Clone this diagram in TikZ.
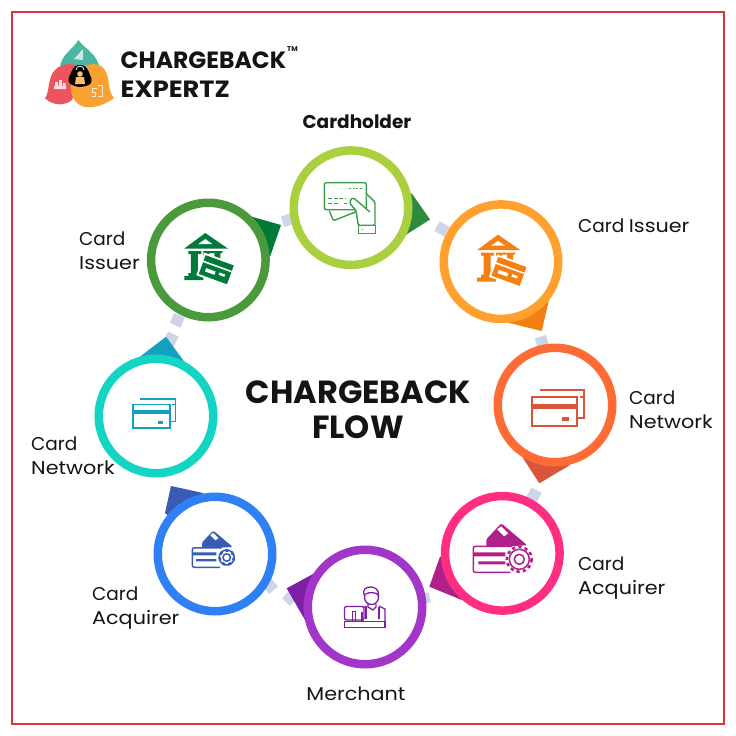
\documentclass[tikz,border=0pt]{standalone}
\usepackage{fontspec}
\usetikzlibrary{calc}
\setmainfont{Poppins}
\newfontfamily\widefont[FakeStretch=1.12]{Poppins}
\newfontfamily\brandwide[FakeStretch=1.09]{Poppins}
\begin{document}
\definecolor{rfr}{HTML}{E0333F}
\definecolor{lnk}{HTML}{CED5E8}
\definecolor{txt}{HTML}{141414}
\definecolor{logoT}{HTML}{4DB6A2}\definecolor{logoR}{HTML}{EC5560}\definecolor{logoO}{HTML}{F9A231}
\definecolor{lime}{HTML}{ABD03F}\definecolor{limeT}{HTML}{2E8B3D}\definecolor{limeI}{HTML}{3C9C4C}
\definecolor{oran}{HTML}{FFA02F}\definecolor{oranT}{HTML}{F57F10}
\definecolor{redo}{HTML}{FF6B35}\definecolor{redoT}{HTML}{D9553A}
\definecolor{pink}{HTML}{FF2E83}\definecolor{pinkT}{HTML}{B0208A}
\definecolor{purp}{HTML}{A236C8}\definecolor{purpT}{HTML}{7D1FA5}
\definecolor{blu}{HTML}{2F80F5}\definecolor{bluT}{HTML}{3A5BB5}
\definecolor{teal}{HTML}{14D4C4}\definecolor{tealT}{HTML}{14A0BF}
\definecolor{dgrn}{HTML}{4A9A3C}\definecolor{dgrnT}{HTML}{007A38}
\newcommand{\iconBank}[2]{\begin{scope}[shift={(#1)}]
 \fill[#2] (-3,-27)--(19.5,-11.5)--(-24,-11.5)--cycle;
 \fill[white] (-3,-21)--(4,-16)--(-10,-16)--cycle;
 \fill[#2] (-20,-9) rectangle (-7,-6) (-17.5,-6) rectangle (-10.5,14) (-20,13) rectangle (-7,16) (-24,16) rectangle (-5,20);
 \fill[#2] (-5,-9) rectangle (1,3) (6,-9) rectangle (12,1) (-5,-9) rectangle (14,-7);
 \begin{scope}[shift={(8,9.7)},rotate=-20]
  \fill[white] (-17,-12) rectangle (17,12);
  \fill[#2] (-15,-10) rectangle (15,10);
  \fill[white] (-15,-4.2) rectangle (15,-2.6);
  \fill[white] (-10,2) rectangle (0,5.5) (4,1.5) rectangle (10,4);
 \end{scope}\end{scope}}
\newcommand{\iconCards}[3]{\begin{scope}[shift={(#1)},scale=#3]
 \draw[#2,line width=1.8] (-15,-15) -- (29,-15) -- (29,13) -- (23,13) (25,-8)--(29,-8);
 \fill[white] (-23,-8) rectangle (22,21);
 \draw[#2,line width=1.8] (-23,-8) rectangle (22,21);
 \fill[#2] (-23,-1.5) rectangle (22,4);
 \fill[#2] (7,12) rectangle (14,16);
 \end{scope}}
\newcommand{\iconGear}[4]{\begin{scope}[shift={(#1)},scale=#3]
 \fill[#2,rounded corners=1.5] (-16,-14) -- (-1,-30) -- (25,-8) -- (-16,-6) -- cycle;
 \fill[white] (-5,-24) -- (-1,-27) -- (6,-20) -- (2,-17) -- cycle;
 \fill[white] (-29,-7) rectangle (10,19);
 \draw[#2,line width=1.5,rounded corners=2] (8,19) -- (-29,19) -- (-29,-7) -- (10,-7);
 \fill[#2] (-29,-1) rectangle (3,3) (-24,8) rectangle (3,11);
 \begin{scope}[shift={(17,6)}]
  \fill[white] (0,0) circle (12);
  \draw[#2,line width=2.6,dash pattern=on 3.2 off 3.2] (0,0) circle (#4);
  \draw[#2,line width=1.5] (0,0) circle (10) (0,0) circle (5);
 \end{scope}\end{scope}}
\newcommand{\iconHand}[2]{\begin{scope}[shift={(#1)},line width=1.4,#2]
 \draw[fill=white,rounded corners=1.5] (-18,3) -- (-14,13) -- (9,4) -- (7,0);
 \draw[fill=white,rounded corners=2] (-23,-25) rectangle (19,2);
 \draw[line width=1.4,dash pattern=on 2 off 1.4] (2,-19.5) -- (15,-19.5);
 \draw[line width=1.1,dash pattern=on 4 off 1.5] (-19,-9.5) -- (-1,-9.5);
 \draw[line width=1.1,dash pattern=on 4 off 1.5] (-19,-4.5) -- (-8,-4.5) (-3,-4.5)--(0,-4.5);
 \draw[fill=white,rounded corners=1.5] (19,-14) -- (27.7,-5.7) -- (27.7,17.7) -- (11,17.7) -- (8.7,2.7) -- (2.7,-4) -- (3,-8) -- (6,-10) -- (22.7,4.3);
 \draw[fill=white] (11,17.7) rectangle (28,26);
 \draw (15,21.5) -- (15.8,21.5);
 \end{scope}}
\newcommand{\iconShop}[2]{\begin{scope}[shift={(#1)},line width=1.3,#2]
 \draw[fill=white] (2,0) -- (-2,0) -- (-2,14) (14,-1) -- (20,2) -- (20,15);
 \draw (1,-1) -- (1,12) (14,0) -- (14,12);
 \draw[fill=white] (6.5,-9.5) circle (7);
 \draw[fill=white] (-0.5,-11) .. controls (-3,-18) and (1,-20) .. (6,-20) .. controls (10,-20) and (14,-17) .. (13.5,-12) .. controls (11,-15) and (4,-15) .. (0.5,-13);
 \draw (3,-3) -- (3,0) -- (8,3) -- (11,0) -- (11,-3);
 \draw[fill=white,rounded corners=2] (-20.5,-0.5) rectangle (-1,13);
 \draw[line width=1] (-13,4) rectangle (-10,14.7);
 \draw[fill=white] (-20.5,14.7) rectangle (20,20.5);
 \draw (-3,5) -- (-3,14);
 \end{scope}}
\begin{tikzpicture}[x=1pt,y=-1pt,
 ringb/.style={circle,line width=8.5pt,fill=white,minimum size=114.5pt,inner sep=0pt,outer sep=0pt},
 linkb/.style={fill=lnk,minimum width=11.5pt,minimum height=11pt,inner sep=0pt},
 lab/.style={font=\fontsize{18.5}{24}\selectfont,text=txt,inner sep=0pt,align=left,anchor=west}]
\useasboundingbox (0,0) rectangle (736,736);
\fill[white] (0,0) rectangle (736,736);
\draw[rfr,line width=1.6pt] (12,12) rectangle (724,724);

% logo
\fill[logoT] (78.5,40) .. controls (84,49) and (99,54) .. (99.5,70) .. controls (100,85) and (88,90) .. (79,90) .. controls (68,90) and (59,82) .. (60,68) .. controls (60,56) and (73,49) .. (78.5,40);
\fill[white!70!logoT] (74,59) -- (83,49) -- (83,60) -- cycle;
\fill[logoR] (45,98.5) .. controls (51,90) and (46,72) .. (61,66) .. controls (72,61) and (84,66) .. (80,78) .. controls (76,88) and (74,95) .. (72,100) .. controls (64,106) and (54,106) .. (45,98.5);
\fill[logoO] (114,98) .. controls (106,90) and (112,74) .. (101,66) .. controls (92,61) and (78,66) .. (72,80) .. controls (68,92) and (74,105) .. (85,107) .. controls (97,108) and (106,104) .. (114,98);
\fill[white!80!logoR] (54,86) rectangle (66,89) (55,82) rectangle (58,86) (59,80) rectangle (62,86) (63,83) rectangle (65.5,86);
\draw[white!80!logoO,line width=1pt] (97,88) -- (92,88) -- (92,92) -- (95,92) -- (95,96) -- (92,96) (98,85) -- (102,85) -- (102,96) -- (98,96);
\fill[black] (80,65) .. controls (87,65) and (88,70) .. (90,75) .. controls (93,80) and (92,85) .. (86,86) -- (80,87) .. controls (72,86) and (67,84) .. (69,77) .. controls (72,72) and (72,65) .. (80,65);
\fill[logoO!70!white] (80,74) circle (2.8) (75,84) -- (76,77) -- (84,77) -- (85,84) -- cycle;
\draw[white,line width=.8pt] (76,70) arc[start angle=180,end angle=360,radius=4];
\node[anchor=west,inner sep=0pt,font=\bfseries\fontsize{23.5}{28}\selectfont,text=txt] (brandA) at (120.5,60) {CHARGEBACK};
\node[anchor=west,inner sep=0pt,font=\brandwide\bfseries\fontsize{23.5}{28}\selectfont,text=txt] (brandB) at (120.5,89) {EXPERTZ};
\node[anchor=west,inner sep=0pt,font=\bfseries\fontsize{7}{8}\selectfont,text=txt] (brandC) at (287,49.5) {TM};

% circle centres and tail tips
\coordinate (tipA) at (430,219.5);\coordinate (tipB) at (541.7,331);\coordinate (tipC) at (539.3,483.3);\coordinate (tipD) at (429.3,586.7);
\coordinate (tipE) at (286.7,588.3);\coordinate (tipF) at (171,486);\coordinate (tipG) at (166,336.7);\coordinate (tipH) at (281,225);
\coordinate (cA) at (351,207.7);\coordinate (cB) at (501,261.7);\coordinate (cC) at (555,405);\coordinate (cD) at (502.3,553.3);
\coordinate (cE) at (365,607);\coordinate (cF) at (215,554);\coordinate (cG) at (156,416);\coordinate (cH) at (208.3,260);

% link pieces
\node[linkb,rotate=-30] (l0) at (442,229) {};
\node[linkb,rotate=17] (l2) at (542,342) {};
\node[linkb,rotate=-28] (l3) at (534,495) {};
\node[linkb,rotate=15,minimum width=6pt,minimum height=10pt] (l4) at (427,598) {};
\node[linkb,rotate=45] (l5) at (290,598) {};
\node[linkb,rotate=40] (l6) at (270,586) {};
\node[linkb,rotate=-25] (l7) at (171,339) {};
\node[linkb,rotate=-25] (l8) at (177.3,320.3) {};
\node[linkb,rotate=20] (l9) at (288,220) {};

% tails
\fill[limeT] (411.7,193.3) -- (tipA) -- (403,236.7) -- (cA) -- cycle;
\fill[oranT] (549,300) -- (tipB) -- (508,322.7) -- (cB) -- cycle;
\fill[redoT] (523,458) -- (tipC) -- (570,465) -- (cC) -- cycle;
\fill[pinkT] (440,556.7) -- (tipD) -- (461.7,600) -- (cD) -- cycle;
\fill[purpT] (315,573) -- (tipE) -- (305,620) -- (cE) -- cycle;
\fill[bluT] (203,493) -- (tipF) -- (165,513) -- (cF) -- cycle;
\fill[tealT] (140,356.7) -- (tipG) -- (186.7,365) -- (cG) -- cycle;
\fill[dgrnT] (251.7,216.7) -- (tipH) -- (270,256.7) -- (cH) -- cycle;

% rings
\node[ringb,draw=lime] (holder) at (cA) {};
\node[ringb,draw=oran] (issuerR) at (cB) {};
\node[ringb,draw=redo] (networkR) at (cC) {};
\node[ringb,draw=pink] (acqR) at (cD) {};
\node[ringb,draw=purp] (merchant) at (cE) {};
\node[ringb,draw=blu] (acqL) at (cF) {};
\node[ringb,draw=teal] (networkL) at (cG) {};
\node[ringb,draw=dgrn] (issuerL) at (cH) {};

% icons
\iconHand{$(cA)+(-3.7,0)$}{draw=limeI}
\iconBank{cB}{oranT}
\iconCards{cC}{redoT}{1}
\iconGear{cD}{pinkT}{1}{12.5}
\iconShop{cE}{draw=purpT}
\iconGear{$(cF)+(-1,-1)$}{bluT}{.75}{9.5}
\iconCards{$(cG)+(-4,-5)$}{tealT}{.81}
\iconBank{cH}{dgrnT}

% labels
\node[font=\bfseries\fontsize{32}{36}\selectfont,text=txt,inner sep=0pt] (ttlA) at (358.5,392) {CHARGEBACK};
\node[font=\bfseries\fontsize{32}{36}\selectfont,text=txt,inner sep=0pt] (ttlB) at (358,427) {FLOW};
\node[font=\bfseries\fontsize{18.5}{20}\selectfont,text=txt,inner sep=0pt] (lA) at (357,122) {Cardholder};
\node[lab] (lB) at (578,226) {Card\hspace{4.5pt}{\widefont Issuer}};
\node[lab] (lC) at (629,410) {Card\\{\widefont Network}};
\node[lab] (lD) at (578,578.5) {Card\\{\widefont Acquirer}};
\node[font=\widefont\fontsize{18.5}{24}\selectfont,text=txt,inner sep=0pt] (lE) at (356,694) {Merchant};
\node[lab] (lF) at (92,608) {Card\\{\widefont Acquirer}};
\node[lab] (lG) at (31,455.5) {Card\\{\widefont Network}};
\node[lab] (lH) at (79,251) {Card\\{\widefont Issuer}};
\end{tikzpicture}
\end{document}
